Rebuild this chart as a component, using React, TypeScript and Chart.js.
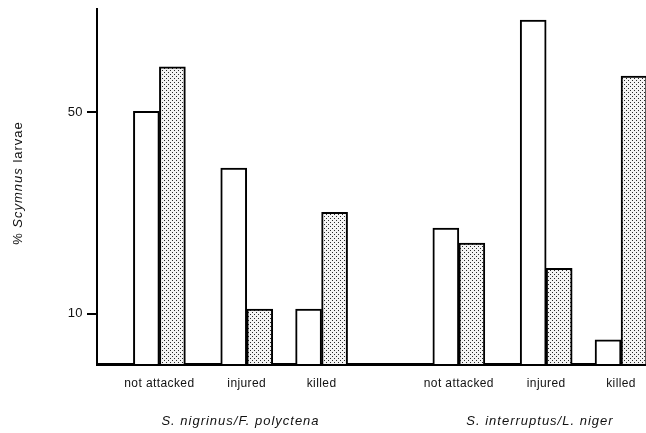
import React, { useEffect, useRef } from "react";
import { Chart, registerables } from "chart.js";

Chart.register(...registerables);

// ---- data ----
const categories = ["not attacked", "injured", "killed", "not attacked", "injured", "killed"];
const categorySlots = [0, 7, 13, 24, 31, 37]; // slot index of each category along the x axis
const groupLabels = ["S. nigrinus/F. polyctena", "S. interruptus/L. niger"];
const groupOfCategory = [0, 0, 0, 1, 1, 1];
const openBarValues = [50.2, 38.9, 10.9, 27.0, 68.3, 4.8];
const dottedBarValues = [59.0, 10.9, 30.1, 24.0, 19.0, 57.2];
const yTickValues = [10, 50];
const yTitleParts = [
  { text: "% ", italic: false },
  { text: "Scymnus", italic: true },
  { text: " larvae", italic: false },
];

const FONT = "'Liberation Sans', Arial, sans-serif";
const TEXT = "#111111";

function makeDotPattern(): CanvasPattern | string {
  const c = document.createElement("canvas");
  c.width = 4;
  c.height = 4;
  const g = c.getContext("2d");
  if (!g) return "#ddd";
  g.fillStyle = "#f4f4f4";
  g.fillRect(0, 0, 4, 4);
  g.fillStyle = "#2a2a2a";
  g.fillRect(0, 0, 1, 1);
  g.fillRect(2, 2, 1, 1);
  const p = g.createPattern(c, "repeat");
  return p || "#ddd";
}

const annotationsPlugin = {
  id: "annotations",
  afterDraw(chart: any) {
    const ctx = chart.ctx as CanvasRenderingContext2D;
    const xs = chart.scales.x;
    // group labels
    ctx.save();
    ctx.fillStyle = TEXT;
    ctx.font = `italic 13px ${FONT}`;
    (ctx as any).letterSpacing = "1px";
    ctx.textAlign = "center";
    ctx.textBaseline = "middle";
    groupLabels.forEach((label, gi) => {
      const slots = categorySlots.filter((_, i) => groupOfCategory[i] === gi);
      const mid = (Math.min(...slots) + Math.max(...slots)) / 2;
      ctx.fillText(label, xs.getPixelForValue(mid), 421);
    });
    ctx.restore();

    // y title with mixed styles
    ctx.save();
    ctx.fillStyle = TEXT;
    ctx.textBaseline = "middle";
    ctx.textAlign = "left";
    (ctx as any).letterSpacing = "1px";
    const widths = yTitleParts.map((p) => {
      ctx.font = `${p.italic ? "italic " : ""}13px ${FONT}`;
      return ctx.measureText(p.text).width;
    });
    const total = widths.reduce((a, b) => a + b, 0);
    ctx.translate(18, 183);
    ctx.rotate(-Math.PI / 2);
    let x = -total / 2;
    yTitleParts.forEach((p, i) => {
      ctx.font = `${p.italic ? "italic " : ""}13px ${FONT}`;
      ctx.fillText(p.text, x, 0);
      x += widths[i];
    });
    ctx.restore();
  },
};

const spacingPlugin = {
  id: "spacing",
  beforeDraw(chart: any) {
    (chart.ctx as any).letterSpacing = "0.4px";
  },
};

export default function App() {
  const ref = useRef<HTMLCanvasElement | null>(null);

  useEffect(() => {
    if (!ref.current) return;
    const pattern = makeDotPattern();
    const chart = new Chart(ref.current, {
      type: "bar",
      data: {
        datasets: [
          {
            label: "open",
            data: categorySlots.map((s, i) => ({ x: s, y: openBarValues[i] })),
            backgroundColor: "#ffffff",
            borderColor: "#000000",
            borderWidth: 2,
            borderSkipped: "bottom",
            barThickness: 26,
          },
          {
            label: "dotted",
            data: categorySlots.map((s, i) => ({ x: s, y: dottedBarValues[i] })),
            backgroundColor: pattern as any,
            borderColor: "#000000",
            borderWidth: 2,
            borderSkipped: "bottom",
            barThickness: 26,
          },
        ],
      },
      options: {
        responsive: false,
        animation: false,
        layout: { padding: { top: 9, right: 0, left: 0, bottom: 0 } },
        plugins: {
          legend: { display: false },
          tooltip: { enabled: false },
          title: { display: false },
        },
        scales: {
          x: {
            type: "linear",
            min: -5,
            max: 39,
            offset: false,
            grid: { display: false, drawTicks: false, offset: false },
            border: { display: true, color: "#000", width: 3 },
            afterBuildTicks: (scale: any) => {
              scale.ticks = categorySlots.map((v) => ({ value: v }));
            },
            afterFit: (scale: any) => {
              scale.height = 69;
              scale.paddingLeft = 0;
              scale.paddingRight = 0;
            },
            ticks: {
              autoSkip: false,
              maxRotation: 0,
              padding: 12,
              color: TEXT,
              font: { family: FONT, size: 12 },
              callback: (value: any) => {
                const i = categorySlots.indexOf(Number(value));
                return i >= 0 ? categories[i] : "";
              },
            },
          },
          y: {
            type: "linear",
            min: 0,
            max: 70.5,
            grid: {
              drawOnChartArea: false,
              drawTicks: true,
              tickLength: 10,
              color: "#000",
              lineWidth: 2,
            },
            border: { display: true, color: "#000", width: 2 },
            afterBuildTicks: (scale: any) => {
              scale.ticks = yTickValues.map((v) => ({ value: v }));
            },
            afterFit: (scale: any) => {
              scale.width = 97;
              scale.paddingTop = 0;
              scale.paddingBottom = 0;
            },
            ticks: {
              padding: 4,
              color: TEXT,
              font: { family: FONT, size: 13 },
            },
          },
        },
      },
      plugins: [spacingPlugin, annotationsPlugin],
    });
    return () => chart.destroy();
  }, []);

  return (
    <div style={{ position: "fixed", left: 0, top: 0, width: 646, height: 433, background: "#fff" }}>
      <canvas ref={ref} width={646} height={433} style={{ display: "block" }} />
    </div>
  );
}
